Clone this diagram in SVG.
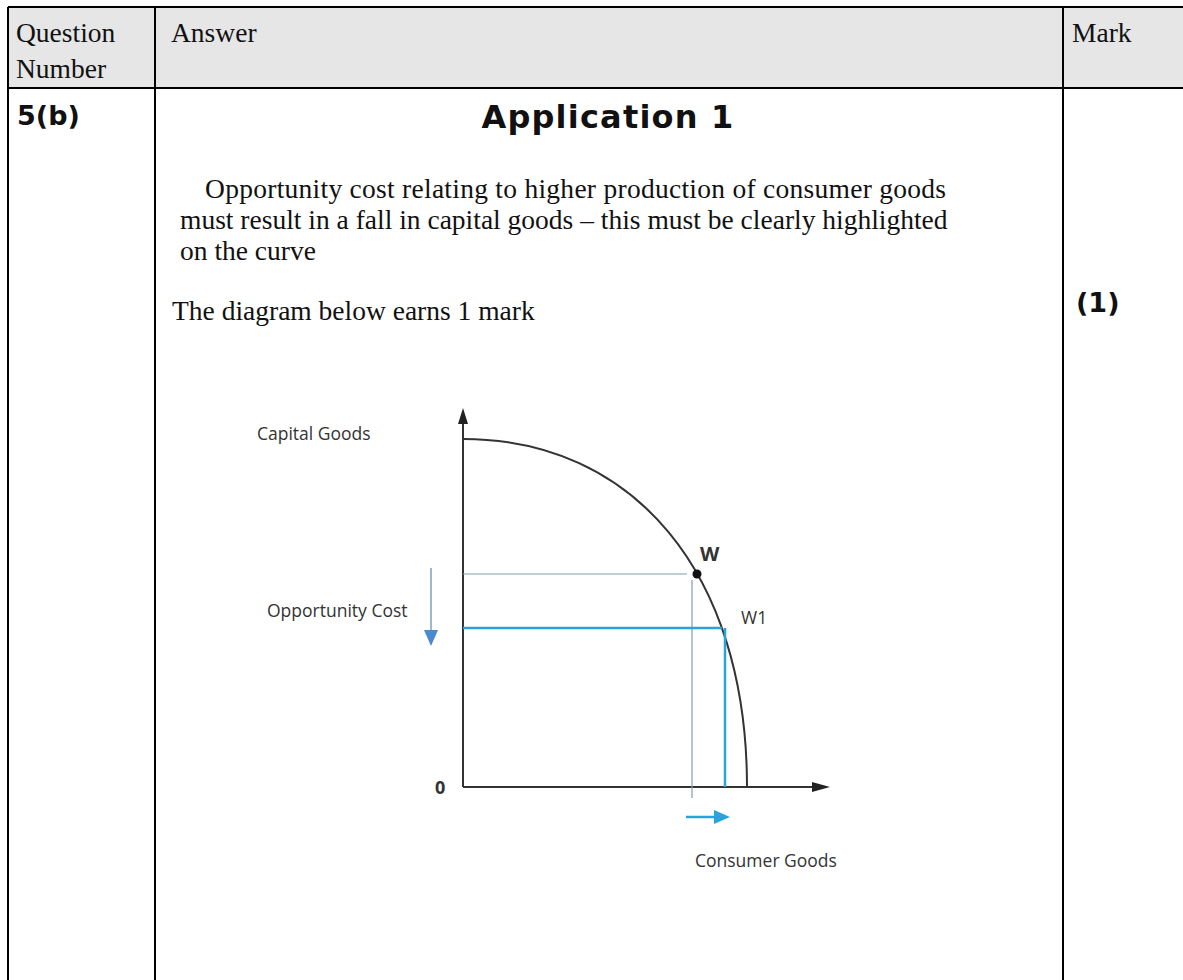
<svg xmlns="http://www.w3.org/2000/svg" width="1183" height="980" viewBox="0 0 1183 980">
<defs>
<style>
.tbl{stroke:#000;stroke-width:2;fill:none}
.serif{font-family:"Liberation Serif","Times New Roman",serif;font-size:27.5px;fill:#111}
.bold{font-family:"DejaVu Sans",Verdana,sans-serif;font-weight:bold;fill:#111}
.lab{font-family:"Open Sans","Noto Sans",sans-serif;font-size:17.5px;fill:#333}
.axis{stroke:#333;stroke-width:2;fill:none}
.thin{stroke:#7f9fb0;stroke-width:1.2;fill:none}
.blue{stroke:#2aa3dc;stroke-width:2.5;fill:none}
</style>
</defs>
<rect width="1183" height="980" fill="#fff"/>
<g id="table">
<rect x="8" y="7" width="1175" height="81" fill="#e6e6e6"/>
<line class="tbl" x1="8" y1="7" x2="1183" y2="7"/>
<line class="tbl" x1="8" y1="88" x2="1183" y2="88"/>
<line class="tbl" x1="8" y1="7" x2="8" y2="980"/>
<line class="tbl" x1="155" y1="7" x2="155" y2="980"/>
<line class="tbl" x1="1063" y1="7" x2="1063" y2="980"/>
<text class="serif" x="16" y="42" font-size="28">Question</text>
<text class="serif" x="16" y="78" font-size="28">Number</text>
<text class="serif" x="171" y="42" font-size="28">Answer</text>
<text class="serif" x="1072" y="42" font-size="28">Mark</text>
<text class="bold" x="17" y="125" font-size="27">5(b)</text>
<text class="bold" x="1076" y="312" font-size="27">(1)</text>
</g>
<g id="answer-text">
<text class="bold" x="608" y="128" font-size="32" letter-spacing="1.2" text-anchor="middle">Application 1</text>
<text class="serif" x="205" y="198" textLength="741" lengthAdjust="spacing">Opportunity cost relating to higher production of consumer goods</text>
<text class="serif" x="180" y="229">must result in a fall in capital goods – this must be clearly highlighted</text>
<text class="serif" x="180" y="260">on the curve</text>
<text class="serif" x="172" y="320">The diagram below earns 1 mark</text>
</g>
<g id="graph">
<g id="axes">
<line class="axis" x1="463" y1="420" x2="463" y2="787"/>
<polygon points="463,408 458,424 468,424" fill="#222"/>
<line class="axis" x1="463" y1="787" x2="815" y2="787"/>
<polygon points="830,787 812,782 812,792" fill="#222"/>
</g>
<g id="curve">
<path class="axis" d="M463,439 C633,439 747,572 747,787"/>
</g>
<g id="connectors">
<line class="thin" x1="463" y1="574" x2="687" y2="574"/>
<line class="thin" x1="692" y1="580" x2="692" y2="798"/>
<line class="blue" x1="463" y1="628" x2="722" y2="628"/>
<line class="blue" x1="725" y1="628" x2="725" y2="787"/>
<line x1="431" y1="568" x2="431" y2="632" stroke="#6a8fb5" stroke-width="1.3"/>
<polygon points="424,630 438,630 431,646" fill="#4a8ad0"/>
<line x1="686" y1="817" x2="716" y2="817" stroke="#2aa3dc" stroke-width="2.5"/>
<polygon points="730,817 714,810 714,824" fill="#2aa3dc"/>
</g>
<g id="point-W">
<circle cx="697" cy="574" r="4.5" fill="#111"/>
<text x="700" y="561" font-family="'Open Sans','Noto Sans',sans-serif" font-size="20" font-weight="bold" fill="#333">W</text>
</g>
<g id="point-W1">
<text class="lab" x="741" y="624" font-size="16">W1</text>
</g>
<text class="lab" x="257" y="440">Capital Goods</text>
<text class="lab" x="267" y="617">Opportunity Cost</text>
<text class="lab" x="695" y="867">Consumer Goods</text>
<text x="435" y="794" font-family="'Open Sans','Noto Sans',sans-serif" font-size="18" font-weight="bold" fill="#333">0</text>
</g>
</svg>
